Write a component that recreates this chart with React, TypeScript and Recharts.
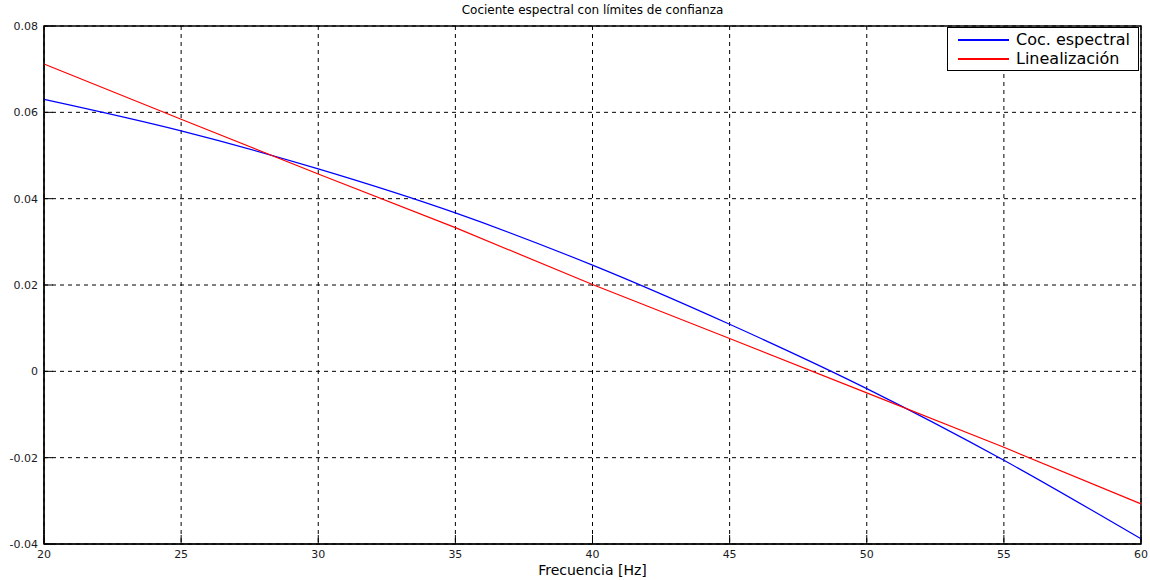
import { LineChart, Line, XAxis, YAxis, CartesianGrid, Legend, ReferenceArea } from "recharts"

// frequencies in Hz
const freqs = [20, 25, 30, 35, 40, 45, 50, 55, 60]
// spectral ratio (blue)
const cocEspectral = [0.063, 0.0557, 0.0469, 0.0367, 0.0246, 0.0109, -0.004, -0.0206, -0.0388]
// linear fit (red)
const linealizacion = [0.0712, 0.0584, 0.0457, 0.0333, 0.0201, 0.0076, -0.005, -0.0176, -0.0307]

const xTicks = [20, 25, 30, 35, 40, 45, 50, 55, 60]
const yTicks = [-0.04, -0.02, 0, 0.02, 0.04, 0.06, 0.08]

const data = freqs.map((f, i) => ({ f, coc: cocEspectral[i], lin: linealizacion[i] }))

const font = "'DejaVu Sans', Tahoma, sans-serif"

// eslint-disable-next-line @typescript-eslint/no-explicit-any
function XTick({ x, y, payload }: any) {
  const axisY = y - 4
  return (
    <g>
      <line x1={x} x2={x} y1={axisY} y2={axisY - 9} stroke="#000" />
      <text x={x} y={axisY + 14} textAnchor="middle" fontSize={11} fontFamily={font} fill="#1a1a24">
        {payload.value}
      </text>
    </g>
  )
}

// eslint-disable-next-line @typescript-eslint/no-explicit-any
function YTick({ x, y, payload }: any) {
  const axisX = x + 6
  const v = payload.value === 0 ? "0" : String(payload.value)
  return (
    <g>
      <line x1={axisX} x2={axisX + 9} y1={y} y2={y} stroke="#000" />
      <text x={x} y={y + 4} textAnchor="end" fontSize={11} fontFamily={font} fill="#1a1a24">
        {v}
      </text>
    </g>
  )
}

function LegendBox() {
  const items = [
    { label: "Coc. espectral", color: "#0000ff" },
    { label: "Linealización", color: "#ff0000" },
  ]
  return (
    <div
      style={{
        border: "1px solid #000",
        background: "#fff",
        width: 192,
        height: 44,
        boxSizing: "border-box",
        padding: "2px 0 0 10px",
        fontFamily: font,
        fontSize: 16,
        lineHeight: "19px",
        color: "#000",
      }}
    >
      {items.map((it) => (
        <div key={it.label} style={{ display: "flex", alignItems: "center", whiteSpace: "nowrap" }}>
          <span style={{ display: "inline-block", width: 51, height: 0, borderTop: `2px solid ${it.color}`, marginRight: 7 }} />
          <span>{it.label}</span>
        </div>
      ))}
    </div>
  )
}

export default function App() {
  return (
    <div style={{ position: "absolute", left: 0, top: 0, width: 1150, height: 580, background: "#fff" }}>
      <div
        style={{
          position: "absolute",
          top: 3,
          left: 44,
          width: 1097,
          textAlign: "center",
          fontFamily: font,
          fontSize: 12,
          color: "#000",
        }}
      >
        Cociente espectral con límites de confianza
      </div>
      <LineChart width={1150} height={580} data={data} margin={{ top: 26, right: 9, left: 0, bottom: 16 }}>
        <CartesianGrid stroke="#000" strokeDasharray="4 4" horizontalValues={yTicks} verticalValues={xTicks} />
        <XAxis
          dataKey="f"
          type="number"
          domain={[20, 60]}
          ticks={xTicks}
          tickLine={false}
          tickSize={0}
          tickMargin={4}
          height={20}
          stroke="#000"
          tick={<XTick />}
          label={{ value: "Frecuencia [Hz]", position: "insideBottom", offset: -11, fontSize: 14, fontFamily: font, fill: "#000" }}
        />
        <YAxis
          type="number"
          domain={[-0.04, 0.08]}
          ticks={yTicks}
          tickLine={false}
          tickSize={0}
          tickMargin={6}
          width={44}
          stroke="#000"
          tick={<YTick />}
        />
        <ReferenceArea x1={20} x2={60} y1={-0.04} y2={0.08} fill="none" stroke="#000" strokeWidth={1.5} />
        <Legend
          layout="vertical"
          align="center"
          verticalAlign="middle"
          content={<LegendBox />}
          wrapperStyle={{ position: "absolute", top: 27, left: 947, width: 192 }}
        />
        <Line type="monotone" dataKey="coc" stroke="#0000ff" strokeWidth={1.2} dot={false} isAnimationActive={false} />
        <Line type="linear" dataKey="lin" stroke="#ff0000" strokeWidth={1.2} dot={false} isAnimationActive={false} />
      </LineChart>
    </div>
  )
}
